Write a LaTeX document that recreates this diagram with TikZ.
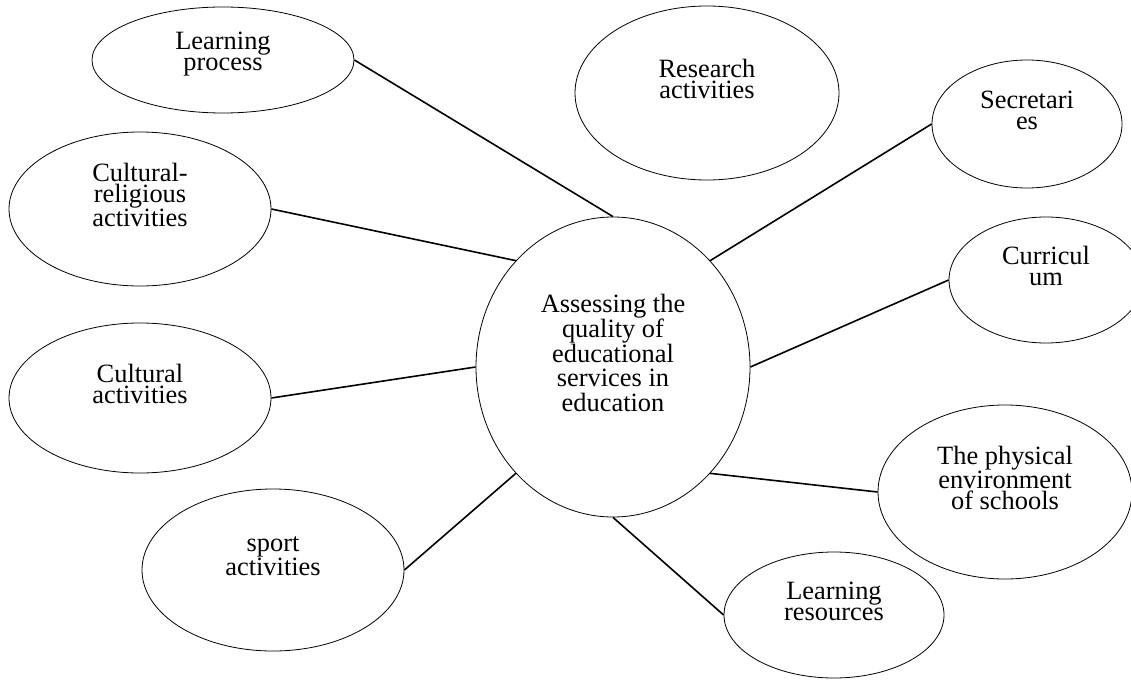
\documentclass[tikz,border=0pt]{standalone}
\usepackage{fontspec}
\setmainfont{Liberation Serif}
\usetikzlibrary{shapes.geometric}

\begin{document}
\begin{tikzpicture}[x=0.75pt, y=-0.75pt]
			\tikzstyle{bubble} = [draw, ellipse, line width=0.6pt, inner sep=0pt]
			\tikzstyle{txt} = [align=center, inner sep=0pt, font=\fontsize{19.8}{15.8}\selectfont, yshift=10.5pt]
			\useasboundingbox (0,0) rectangle (1131,681);

			\begin{scope}
			\path[line width=1.2pt]

			node[bubble, minimum width=205.5pt, minimum height=225pt,
				label={[txt, font=\fontsize{19.8}{18.5}\selectfont]center:Assessing the\\quality of\\educational\\services in\\education}] (ctr) at (613,367) {}
			node[bubble, minimum width=196.5pt, minimum height=79.5pt,
				label={[txt, yshift=-6pt]center:Learning\\process}] (lp) at (223,60) {}
			node[bubble, minimum width=196.5pt, minimum height=115.5pt,
				label={[txt]center:Cultural-\\religious\\activities}] (cr) at (140,209) {}
			node[bubble, minimum width=196.5pt, minimum height=112.5pt,
				label={[txt]center:Cultural\\activities}] (ca) at (140,398) {}
			node[bubble, minimum width=196.5pt, minimum height=121.5pt,
				label={[txt]center:sport\\activities}] (sp) at (273,570) {}
			node[bubble, minimum width=198pt, minimum height=130.5pt,
				label={[txt]center:Research\\activities}] (ra) at (707,93) {}
			node[bubble, minimum width=142.5pt, minimum height=96pt,
				label={[txt]center:Secretari\\es}] (se) at (1027,124) {}
			node[bubble, minimum width=145.5pt, minimum height=94.5pt,
				label={[txt]center:Curricul\\um}] (cu) at (1046,280) {}
			node[bubble, minimum width=190.5pt, minimum height=130.5pt,
				label={[txt]center:The physical\\environment\\of schools}] (pe) at (1005,492) {}
			node[bubble, minimum width=165pt, minimum height=94.5pt,
				label={[txt]center:Learning\\resources}] (lr) at (834,615) {}

			(lp.east) edge (ctr.north)
			(cr.east) edge (ctr.north west)
			(ca.east) edge (ctr.west)
			(sp.east) edge (ctr.south west)
			(se.west) edge (ctr.north east)
			(cu.west) edge (ctr.east)
			(pe.west) edge (ctr.south east)
			(lr.west) edge (ctr.south)
			;
			\end{scope}

\end{tikzpicture}
\end{document}
